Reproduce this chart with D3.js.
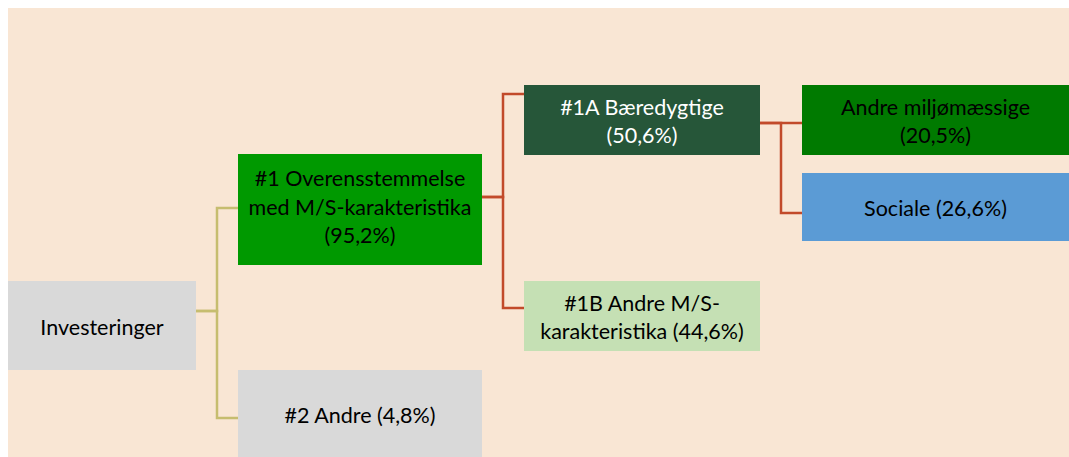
<!DOCTYPE html>
<html>
<head>
<meta charset="utf-8">
<script src="https://cdn.jsdelivr.net/npm/d3@7"></script>
<style>
  html, body { margin: 0; padding: 0; background: #fff; }
  svg { display: block; }
</style>
</head>
<body>
<svg id="tree"></svg>
<script>
// data
const ids = ["inv", "n1", "n2", "n1a", "n1b", "env", "soc"];
const parents = [null, "inv", "inv", "n1", "n1", "n1a", "n1a"];
const titles = [
  "Investeringer",
  "#1 Overensstemmelse\nmed M/S-karakteristika",
  "#2 Andre",
  "#1A Bæredygtige",
  "#1B Andre M/S-\nkarakteristika",
  "Andre miljømæssige",
  "Sociale"
];
const shares = [null, 95.2, 4.8, 50.6, 44.6, 20.5, 26.6];
const shareOnNewLine = [false, true, false, true, false, true, false];

// layout (kept apart from the data)
const width = 1069, height = 457;
const colLeft = [8, 238, 524, 802];
const colWidth = [188, 244, 236, 267];
const boxTop = { inv: 281, n1: 154, n2: 370, n1a: 85, n1b: 281, env: 85, soc: 173 };
const boxHeight = { inv: 89, n1: 111, n2: 87, n1a: 70, n1b: 70, env: 70, soc: 68 };
const anchorIn = { n1: 208, n2: 418, n1a: 94, n1b: 308, env: 123, soc: 213 };
const anchorOut = { inv: 311, n1: 197, n1a: 123 };
const fills = { inv: "#d9d9d9", n1: "#009900", n2: "#d9d9d9", n1a: "#265639", n1b: "#c5e0b4", env: "#007a00", soc: "#5b9bd5" };
const textColor = { n1a: "#ffffff" };
const linkColor = ["#c6bd6f", "#c24a2a", "#c24a2a"];

const locale = d3.formatLocale({ decimal: ",", thousands: ".", grouping: [3], currency: ["", " kr"] });
const fmt = locale.format(".1f");

const table = ids.map((id, i) => ({
  id, parent: parents[i], title: titles[i], share: shares[i], newLine: shareOnNewLine[i]
}));
const root = d3.stratify().id(d => d.id).parentId(d => d.parent)(table);

const x = d3.scaleOrdinal().domain(d3.range(colLeft.length)).range(colLeft);
const w = d3.scaleOrdinal().domain(d3.range(colWidth.length)).range(colWidth);

const svg = d3.select("#tree")
    .attr("width", width)
    .attr("height", height)
    .attr("viewBox", [0, 0, width, height]);

svg.append("rect")
    .attr("x", 8)
    .attr("y", 8)
    .attr("width", width - 8)
    .attr("height", height - 8)
    .attr("fill", "#f9e6d4");

// connectors
svg.append("g")
    .attr("fill", "none")
    .attr("stroke-width", 2.5)
  .selectAll("path")
  .data(root.links())
  .join("path")
    .attr("stroke", d => linkColor[d.source.depth])
    .attr("d", d => {
      const x0 = x(d.source.depth) + w(d.source.depth);
      const x1 = x(d.target.depth);
      const xm = (x0 + x1) / 2;
      const y0 = anchorOut[d.source.id];
      const y1 = anchorIn[d.target.id];
      return `M${x0},${y0}H${xm}V${y1}H${x1}`;
    });

// boxes
const node = svg.append("g")
  .selectAll("g")
  .data(root.descendants())
  .join("g")
    .attr("transform", d => `translate(${x(d.depth)},${boxTop[d.id]})`);

node.append("rect")
    .attr("width", d => w(d.depth))
    .attr("height", d => Math.min(boxHeight[d.id], height - boxTop[d.id]))
    .attr("fill", d => fills[d.id]);

const lineHeight = 28.5;
node.append("text")
    .attr("font-family", "Lato, 'Open Sans', sans-serif")
    .attr("font-size", 21.5)
    .attr("text-anchor", "middle")
    .attr("fill", d => textColor[d.id] || "#000")
    .each(function(d) {
      const lines = d.data.title.split("\n");
      if (d.data.share != null) {
        const s = `(${fmt(d.data.share)}%)`;
        if (d.data.newLine) lines.push(s);
        else lines[lines.length - 1] += " " + s;
      }
      const cx = w(d.depth) / 2;
      // the three-line box sits a little high in the original
      const cy = boxHeight[d.id] / 2 + (lines.length > 2 ? -3 : 1);
      d3.select(this).selectAll("tspan")
        .data(lines)
        .join("tspan")
          .attr("x", cx)
          .attr("y", (t, i) => cy + (i - (lines.length - 1) / 2) * lineHeight)
          .attr("dominant-baseline", "central")
          .text(t => t);
    });
</script>
</body>
</html>
